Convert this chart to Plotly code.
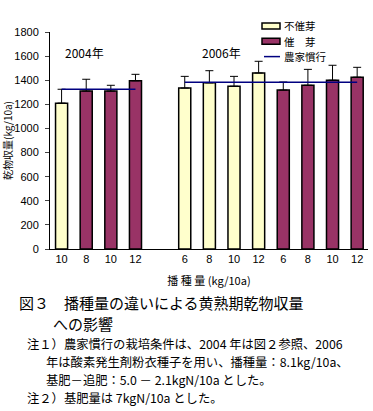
import plotly.graph_objects as go

# ---- data ----
rate_labels = ["10", "8", "10", "12", "", "6", "8", "10", "12", "6", "8", "10", "12"]
year_labels = ["2004年", "2006年"]
series_names = ["不催芽", "催　芽", "農家慣行"]

non_primed = [1210, None, None, None, None, 1335, 1378, 1350, 1460, None, None, None, None]
non_primed_err = [115, None, None, None, None, 97, 101, 82, 97, None, None, None, None]
primed = [None, 1310, 1310, 1395, None, None, None, None, None, 1318, 1358, 1400, 1425]
primed_err = [None, 98, 48, 54, None, None, None, None, None, 67, 132, 124, 82]

farmer_2004 = 1325
farmer_2006 = 1383
farmer_2004_span = [0, 3]
farmer_2006_span = [5, 12]

y_ticks = [0, 200, 400, 600, 800, 1000, 1200, 1400, 1600, 1800]

caption_title = ["図３　播種量の違いによる黄熟期乾物収量", "への影響"]
caption_notes = [
    "注１）農家慣行の栽培条件は、2004 年は図２参照、2006",
    "年は酸素発生剤粉衣種子を用い、播種量：8.1kg/10a、",
    "基肥－追肥：5.0 － 2.1kgN/10a とした。",
    "注２）基肥量は 7kgN/10a とした。",
]

x = list(range(len(rate_labels)))

YELLOW = "#FFFFCC"
PURPLE = "#993366"
NAVY = "#000080"
FONT = "Noto Sans CJK JP"

fig = go.Figure()

fig.add_trace(go.Bar(
    x=x, y=non_primed, name=series_names[0], width=0.49, showlegend=False,
    marker=dict(color=YELLOW, line=dict(color="black", width=1.5)),
    error_y=dict(type="data", array=[e if e is not None else 0 for e in non_primed_err],
                 symmetric=False, arrayminus=[0] * len(x),
                 color="black", thickness=1, width=4),
))
fig.add_trace(go.Bar(
    x=x, y=primed, name=series_names[1], width=0.49, showlegend=False,
    marker=dict(color=PURPLE, line=dict(color="black", width=1.5)),
    error_y=dict(type="data", array=[e if e is not None else 0 for e in primed_err],
                 symmetric=False, arrayminus=[0] * len(x),
                 color="black", thickness=1, width=4),
))
fig.add_trace(go.Scatter(
    x=farmer_2004_span, y=[farmer_2004] * 2, mode="lines", name=series_names[2],
    line=dict(color=NAVY, width=1.5), showlegend=False,
))
fig.add_trace(go.Scatter(
    x=farmer_2006_span, y=[farmer_2006] * 2, mode="lines", name=series_names[2],
    line=dict(color=NAVY, width=1.5), showlegend=False,
))

W, H = 373, 411
L, R, T, B = 50, 5, 32, 162
PW, PH = W - L - R, H - T - B


def px(p):
    return (p - L) / PW


def py(p):
    return (H - B - p) / PH


fig.update_layout(
    width=W, height=H,
    margin=dict(l=L, r=R, t=T, b=B, autoexpand=False),
    plot_bgcolor="white", paper_bgcolor="white",
    barmode="overlay",
    font=dict(family=FONT, size=11, color="black"),
    showlegend=False,
)

fig.update_xaxes(
    range=[-0.47, 12.44], tickmode="array", tickvals=x, ticktext=rate_labels,
    showline=True, linecolor="black", linewidth=1, ticks="", automargin=False,
    tickfont=dict(family="Liberation Sans", size=11), showgrid=False, zeroline=False,
    title=dict(text="播 種 量 (kg/10a)", font=dict(family=FONT, size=11), standoff=13),
)
fig.update_yaxes(
    range=[0, 1800], tickmode="array", tickvals=y_ticks, automargin=False,
    showline=True, linecolor="black", linewidth=1, ticks="outside", ticklen=4,
    ticklabelstandoff=4,
    tickfont=dict(family="Liberation Sans", size=11), showgrid=False, zeroline=False,
    title=dict(text="乾物収量(kg/10a)", font=dict(family=FONT, size=10), standoff=4),
)

# legend (drawn manually for compact spacing)
rows = [26, 41.3, 56.6]
for name, color, yc in zip(series_names[:2], [YELLOW, PURPLE], rows[:2]):
    fig.add_shape(type="rect", xref="paper", yref="paper",
                  x0=px(262), x1=px(280), y0=py(yc + 3), y1=py(yc - 3),
                  fillcolor=color, line=dict(color="black", width=1.5))
fig.add_shape(type="line", xref="paper", yref="paper",
              x0=px(264), x1=px(280), y0=py(rows[2]), y1=py(rows[2]),
              line=dict(color=NAVY, width=1.5))
for name, yc in zip(series_names, rows):
    fig.add_annotation(x=px(283), y=py(yc), xref="paper", yref="paper", text=name,
                       showarrow=False, xanchor="left", yanchor="middle", borderpad=0,
                       font=dict(family=FONT, size=10.5))

# year labels
fig.add_annotation(x=0.95, y=1626, xref="x", yref="y", text=year_labels[0],
                   showarrow=False, font=dict(family=FONT, size=12))
fig.add_annotation(x=6.48, y=1626, xref="x", yref="y", text=year_labels[1],
                   showarrow=False, font=dict(family=FONT, size=12))

# caption
for t, (xp, yp) in zip(caption_title, [(18, 302), (52, 323.8)]):
    fig.add_annotation(x=px(xp), y=py(yp), xref="paper", yref="paper", text=t,
                       showarrow=False, xanchor="left", yanchor="middle", borderpad=0,
                       font=dict(family=FONT, size=15))
for t, (xp, yp) in zip(caption_notes, [(26, 344.4), (45, 362.2), (45, 380), (26, 397.8)]):
    fig.add_annotation(x=px(xp), y=py(yp), xref="paper", yref="paper", text=t,
                       showarrow=False, xanchor="left", yanchor="middle", borderpad=0,
                       font=dict(family=FONT, size=12.3))

fig.write_html("out.html", config={"displayModeBar": False},
               post_script="document.body.style.margin='0';")
